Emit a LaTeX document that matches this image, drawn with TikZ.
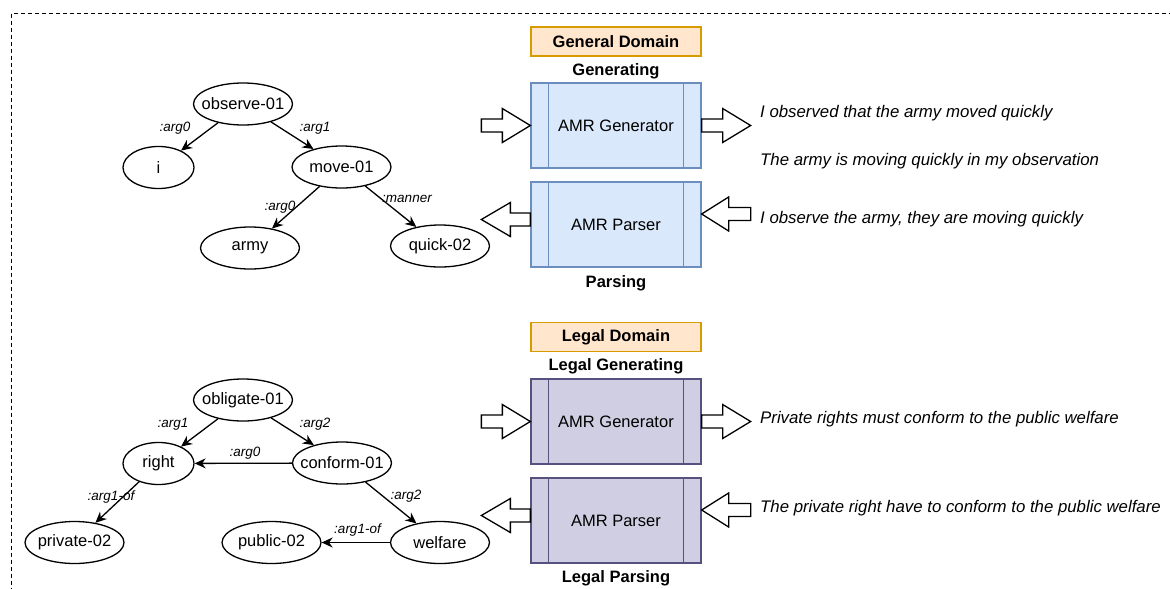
\documentclass[tikz,border=0pt]{standalone}
\usepackage{fontspec}
\setmainfont{Liberation Sans}
\usetikzlibrary{shapes.geometric,arrows.meta,calc}

\definecolor{genfill}{HTML}{DAE8FC}
\definecolor{genline}{HTML}{6C8EBF}
\definecolor{legfill}{HTML}{D0CEE2}
\definecolor{legline}{HTML}{56517E}
\definecolor{tagfill}{HTML}{FFE6CC}
\definecolor{tagline}{HTML}{D79B00}

\tikzset{
  concept/.style={ellipse, draw, line width=1.3pt, inner sep=0pt,
    minimum width=99pt, minimum height=42pt, font=\fontsize{16.5}{19}\selectfont},
  smallconcept/.style={concept, minimum width=71pt},
  rel/.style={line width=1.3pt, -{Stealth[length=11pt,width=10pt]}},
  rellabel/.style={font=\fontsize{13.5}{15}\itshape, inner sep=0pt},
  procbox/.style={rectangle, draw, line width=1.3pt, minimum width=170pt,
    minimum height=85pt, inner sep=0pt, font=\fontsize{16.5}{19}\selectfont},
  tagbox/.style={rectangle, draw=tagline, fill=tagfill, line width=1.3pt,
    minimum width=170pt, minimum height=29pt, inner sep=0pt,
    font=\fontsize{16.5}{19}\selectfont\bfseries},
  caption/.style={font=\fontsize{16.5}{19}\selectfont\bfseries, inner sep=0pt},
  sentence/.style={anchor=west, inner sep=0pt, font=\fontsize{16.8}{19}\itshape},
  pics/blockarrow/.style={code={
    \draw[line width=1.3pt, fill=white, line join=miter]
      (0,0) -- (-#1,-17) -- (-#1,-6.5) -- (-49,-6.5) -- (-49,6.5)
      -- (-#1,6.5) -- (-#1,17) -- cycle;
  }},
}

\newcommand{\sidebars}[2]{%
  \draw[#2, line width=1.3pt] ($(#1.north west)+(18,0)$) -- ($(#1.south west)+(18,0)$);
  \draw[#2, line width=1.3pt] ($(#1.north east)+(-18,0)$) -- ($(#1.south east)+(-18,0)$);
}

\begin{document}
\begin{tikzpicture}[x=1pt, y=-1pt]
\useasboundingbox (0,0) rectangle (1170,589);
\clip (0,0) rectangle (1170,589);

% frame
\draw[line width=1.3pt, dash pattern=on 4pt off 3pt] (11.5,13.5) rectangle (1200,620);

% ---------- general AMR graph ----------
\node[concept] (observe) at (243,104) {\makebox[0pt]{observe-01}};
\node[smallconcept] (i) at (158.5,167.5) {\makebox[0pt]{i}};
\node[concept] (move) at (341.5,167) {\makebox[0pt]{move-01}};
\node[concept] (army) at (250,248) {\makebox[0pt]{army}};
\node[concept] (quick) at (440,246) {\makebox[0pt]{quick-02}};

\draw[rel] (observe) -- (i);
\draw[rel] (observe) -- (move);
\draw[rel] (move) -- (army);
\draw[rel] (move) -- (quick);

\node[rellabel] (l1) at (175,128) {:arg0};
\node[rellabel] (l2) at (315,128) {:arg1};
\node[rellabel] (l3) at (280,207) {:arg0};
\node[rellabel] (l4) at (407,199) {:manner};

% ---------- legal AMR graph ----------
\node[concept] (obligate) at (243,400) {\makebox[0pt]{obligate-01}};
\node[smallconcept] (right) at (158.5,463.5) {\makebox[0pt]{right}};
\node[concept] (conform) at (342,463) {\makebox[0pt]{conform-01}};
\node[concept] (private) at (74.5,542.5) {\makebox[0pt]{private-02}};
\node[concept] (public) at (271.5,542.5) {\makebox[0pt]{public-02}};
\node[concept] (welfare) at (440,542.5) {\makebox[0pt]{welfare}};

\draw[rel] (obligate) -- (right);
\draw[rel] (obligate) -- (conform);
\draw[rel] (conform) -- (right);
\draw[rel] (right) -- (private);
\draw[rel] (conform) -- (welfare);
\draw[rel] (welfare) -- (public);

\node[rellabel] (m1) at (173,424) {:arg1};
\node[rellabel] (m2) at (315,424) {:arg2};
\node[rellabel] (m3) at (245,453) {:arg0};
\node[rellabel] (m4) at (111,497) {:arg1-of};
\node[rellabel] (m5) at (406,496) {:arg2};
\node[rellabel] (m6) at (357.5,530) {:arg1-of};

% ---------- general domain models ----------
\node[tagbox] (gtag) at (616,41.5) {General Domain};
\node[caption] (gcap) at (616,71) {Generating};
\node[procbox, fill=genfill, draw=genline] (ggen) at (616,125.5) {AMR Generator};
\sidebars{ggen}{genline}
\node[procbox, fill=genfill, draw=genline] (gpar) at (616,224.5) {AMR Parser};
\sidebars{gpar}{genline}
\node[caption] (gpcap) at (616,283) {Parsing};

\pic at (ggen.west) {blockarrow=28};
\pic at ($(ggen.east)+(49,0)$) {blockarrow=28};
\pic[rotate=180] at ($(gpar.east)+(0,-10.5)$) {blockarrow=27};
\pic[rotate=180] at ($(gpar.west)+(-49,-5)$) {blockarrow=29};

\node[sentence] (s1) at (760,113) {I observed that the army moved quickly};
\node[sentence] (s2) at (760,161) {The army is moving quickly in my observation};
\node[sentence] (s3) at (760,219) {I observe the army, they are moving quickly};

% ---------- legal domain models ----------
\node[tagbox] (ltag) at (616,337) {Legal Domain};
\node[caption] (lcap) at (616,366) {Legal Generating};
\node[procbox, fill=legfill, draw=legline] (lgen) at (616,421.5) {AMR Generator};
\sidebars{lgen}{legline}
\node[procbox, fill=legfill, draw=legline] (lpar) at (616,520.5) {AMR Parser};
\sidebars{lpar}{legline}
\node[caption] (lpcap) at (616,578) {Legal Parsing};

\pic at (lgen.west) {blockarrow=28};
\pic at ($(lgen.east)+(49,0)$) {blockarrow=28};
\pic[rotate=180] at ($(lpar.east)+(0,-10.5)$) {blockarrow=27};
\pic[rotate=180] at ($(lpar.west)+(-49,-5)$) {blockarrow=29};

\node[sentence] (s4) at (760,419) {Private rights must conform to the public welfare};
\node[sentence] (s5) at (760,508) {The private right have to conform to the public welfare};
\end{tikzpicture}
\end{document}
